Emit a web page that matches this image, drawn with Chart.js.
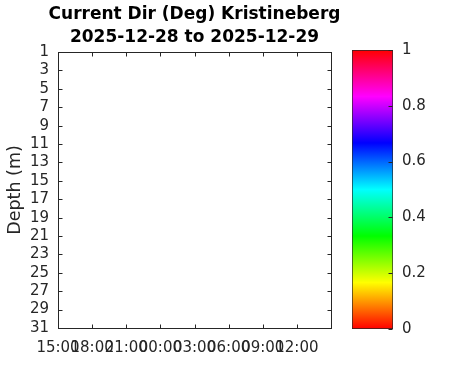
<!DOCTYPE html>
<html lang="en">
<head>
    <meta charset="UTF-8">
    <title>Current Dir (Deg) Kristineberg</title>
    <script src="https://cdn.jsdelivr.net/npm/chart.js"></script>
    <style>
        body { margin: 0; background: #fff; }
        #wrap { position: relative; width: 471px; height: 371px; }
        #mainChart { position: absolute; left: 0; top: 0; }
        #cbChart { position: absolute; left: 340px; top: 0; }
    </style>
</head>
<body>
    <div id="wrap">
        <canvas id="mainChart" width="389" height="371"></canvas>
        <canvas id="cbChart" width="131" height="371"></canvas>
    </div>

    <script>
        // Data (the reference has no measurements in the plotted window)
        const timeLabels = ['15:00', '18:00', '21:00', '00:00', '03:00', '06:00', '09:00', '12:00'];
        const timeHours = [0, 3, 6, 9, 12, 15, 18, 21];   // hours since 2025-12-28 15:00
        const depthTicks = [1, 3, 5, 7, 9, 11, 13, 15, 17, 19, 21, 23, 25, 27, 29, 31];
        const dirPoints = [];                              // empty: no data for this period
        const cbTicks = [0, 0.2, 0.4, 0.6, 0.8, 1];
        const cbRange = [0, 1];

        const axisColor = '#262626';
        const fontFamily = "'DejaVu Sans', sans-serif";
        // MATLAB hsv colormap
        const hsvStops = ['#ff0000', '#ffff00', '#00ff00', '#00ffff', '#0000ff', '#ff00ff', '#ff0000'];

        // Draws the box round the plot and the inward tick marks
        const boxPlugin = {
            id: 'box',
            afterDraw(chart) {
                const ctx = chart.ctx;
                const a = chart.chartArea;
                const l = Math.round(a.left) + 0.5, r = Math.round(a.right) + 0.5;
                const t = Math.round(a.top) + 0.5, b = Math.round(a.bottom) + 0.5;
                ctx.save();
                ctx.strokeStyle = axisColor;
                ctx.lineWidth = 1;
                ctx.strokeRect(l, t, r - l, b - t);
                ctx.beginPath();
                const xs = chart.scales.x;
                xs.ticks.forEach(tk => {
                    const px = Math.round(xs.getPixelForValue(tk.value)) + 0.5;
                    ctx.moveTo(px, b); ctx.lineTo(px, b - 4);
                    ctx.moveTo(px, t); ctx.lineTo(px, t + 4);
                });
                const ys = chart.scales.y;
                ys.ticks.forEach(tk => {
                    const py = Math.round(ys.getPixelForValue(tk.value)) + 0.5;
                    ctx.moveTo(l, py); ctx.lineTo(l + 4, py);
                    ctx.moveTo(r, py); ctx.lineTo(r - 4, py);
                });
                ctx.stroke();
                ctx.restore();
            }
        };

        const mainChart = new Chart(document.getElementById('mainChart'), {
            type: 'scatter',
            data: {
                datasets: [{
                    data: dirPoints,
                    pointRadius: 3
                }]
            },
            options: {
                responsive: false,
                animation: false,
                devicePixelRatio: 1,
                layout: { padding: 0 },
                plugins: {
                    legend: { display: false },
                    tooltip: { enabled: false },
                    title: {
                        display: true,
                        text: ['Current Dir (Deg) Kristineberg', '2025-12-28 to 2025-12-29'],
                        color: '#000',
                        font: { family: fontFamily, size: 17, weight: 'bold', lineHeight: 1.36 },
                        padding: { top: 3, bottom: 2.8 }
                    }
                },
                scales: {
                    x: {
                        type: 'linear',
                        min: 0,
                        max: 24,
                        grid: { display: false, drawTicks: false, tickLength: 0 },
                        border: { display: false },
                        afterBuildTicks: s => { s.ticks = timeHours.map(v => ({ value: v })); },
                        afterFit: s => { s.height = 43; },
                        ticks: {
                            autoSkip: false,
                            maxRotation: 0,
                            padding: 11,
                            color: axisColor,
                            font: { family: fontFamily, size: 15 },
                            callback: v => timeLabels[timeHours.indexOf(v)]
                        }
                    },
                    y: {
                        type: 'linear',
                        reverse: true,
                        min: 1,
                        max: 31,
                        grid: { display: false, drawTicks: false, tickLength: 0 },
                        border: { display: false },
                        afterBuildTicks: s => { s.ticks = depthTicks.map(v => ({ value: v })); },
                        afterFit: s => { s.width = 58; },
                        ticks: {
                            autoSkip: false,
                            padding: 9,
                            color: axisColor,
                            font: { family: fontFamily, size: 15 }
                        },
                        title: {
                            display: true,
                            text: 'Depth (m)',
                            color: axisColor,
                            font: { family: fontFamily, size: 17.5 },
                            padding: { top: 5, bottom: 0 }
                        }
                    },
                    // empty right axis: keeps the title centred over the plot
                    yRight: {
                        type: 'linear',
                        position: 'right',
                        reverse: true,
                        min: 1,
                        max: 31,
                        grid: { display: false, drawTicks: false },
                        border: { display: false },
                        ticks: { display: false },
                        afterFit: s => { s.width = 58; }
                    }
                }
            },
            plugins: [boxPlugin]
        });

        // Colorbar: one floating bar filled with the hsv gradient
        const cbTickPlugin = {
            id: 'cbTicks',
            afterDraw(chart) {
                const ctx = chart.ctx;
                const a = chart.chartArea;
                const ys = chart.scales.y;
                const r = Math.round(a.right) - 0.5;
                ctx.save();
                ctx.strokeStyle = axisColor;
                ctx.lineWidth = 1;
                ctx.beginPath();
                ys.ticks.forEach(tk => {
                    const py = Math.round(ys.getPixelForValue(tk.value)) + 0.5;
                    ctx.moveTo(r, py); ctx.lineTo(r - 4, py);
                });
                ctx.stroke();
                ctx.restore();
            }
        };

        const cbChart = new Chart(document.getElementById('cbChart'), {
            type: 'bar',
            data: {
                labels: [''],
                datasets: [{
                    data: [cbRange],
                    backgroundColor: ctx => {
                        const a = ctx.chart.chartArea;
                        if (!a) return hsvStops[0];
                        const g = ctx.chart.ctx.createLinearGradient(0, a.bottom, 0, a.top);
                        hsvStops.forEach((c, i) => g.addColorStop(i / (hsvStops.length - 1), c));
                        return g;
                    },
                    borderColor: axisColor,
                    borderWidth: 1,
                    borderSkipped: false,
                    barPercentage: 1,
                    categoryPercentage: 1
                }]
            },
            options: {
                responsive: false,
                animation: false,
                devicePixelRatio: 1,
                layout: { padding: { left: 12, top: 50, bottom: 42, right: 0 } },
                plugins: {
                    legend: { display: false },
                    tooltip: { enabled: false }
                },
                scales: {
                    x: { display: false },
                    y: {
                        position: 'right',
                        min: 0,
                        max: 1,
                        grid: { display: false, drawTicks: false, tickLength: 0 },
                        border: { display: false },
                        afterBuildTicks: s => { s.ticks = cbTicks.map(v => ({ value: v })); },
                        afterFit: s => { s.width = 78; },
                        ticks: {
                            padding: 9,
                            color: axisColor,
                            font: { family: fontFamily, size: 15 },
                            callback: v => String(v)
                        }
                    }
                }
            },
            plugins: [cbTickPlugin]
        });
    </script>
</body>
</html>
